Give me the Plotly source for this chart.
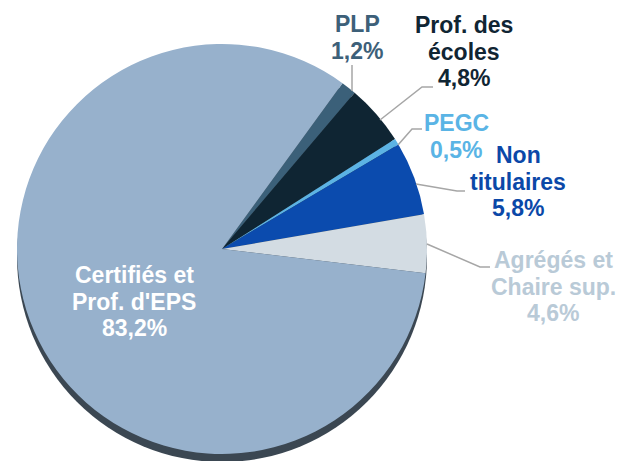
import plotly.graph_objects as go

# ---- data ----
categories = ["PLP", "Prof. des écoles", "PEGC", "Non titulaires",
              "Agrégés et Chaire sup.", "Certifiés et Prof. d'EPS"]
label_lines = [["PLP"], ["Prof. des", "écoles"], ["PEGC"], ["Non", "titulaires"],
               ["Agrégés et", "Chaire sup."], ["Certifiés et", "Prof. d'EPS"]]
values = [1.2, 4.8, 0.5, 5.8, 4.6, 83.2]

# ---- styles ----
slice_colors = ["#3b6079", "#0f2533", "#5cb3e4", "#0b4bae", "#d3dce3", "#97b1cc"]
text_colors = ["#3d6079", "#102533", "#5ab4e5", "#0b48a8", "#b9cad7", "#ffffff"]

W, H = 620, 461
CX, CY, R = 222, 249, 205


def px(x):
    return x / W


def py(y):
    return 1 - y / H


fig = go.Figure()
fig.add_trace(go.Pie(
    labels=categories,
    values=values,
    sort=False,
    direction="clockwise",
    rotation=36,
    marker=dict(colors=slice_colors, line=dict(width=0)),
    textinfo="none",
    hoverinfo="label+percent",
    showlegend=False,
    domain=dict(x=[px(CX - R), px(CX + R)], y=[py(CY + R), py(CY - R)]),
))

# 3D edge (decorative, below the pie)
shapes = [dict(type="circle", xref="paper", yref="paper", layer="below",
               x0=px(CX - R), x1=px(CX + R), y0=py(CY + R + 8), y1=py(CY - R + 8),
               fillcolor="#3b4752", line=dict(width=0))]

# leader lines (pixel polylines)
leaders = [
    [(352, 65), (352, 91)],
    [(433, 87), (422, 87), (380, 120)],
    [(422, 129), (412, 129), (398, 145)],
    [(416, 184), (457, 191), (465, 191)],
    [(427, 244), (480, 267), (490, 267)],
]
for pts in leaders:
    path = "M " + " L ".join(f"{px(x):.5f},{py(y):.5f}" for x, y in pts)
    shapes.append(dict(type="path", xref="paper", yref="paper", path=path,
                       line=dict(color="#a6a6a6", width=1.5)))

# label placement: center x, first baseline (pixels)
label_pos = [(357, 32), (464, 33), (456, 131), (518, 163), (553, 268), (134, 283)]
LINE_GAP = 26.5
FS = 23

annotations = []
for i, cat in enumerate(categories):
    pct = f"{values[i]:.1f}%".replace(".", ",")
    lines = label_lines[i] + [pct]
    cx, b0 = label_pos[i]
    for j, t in enumerate(lines):
        annotations.append(dict(
            x=px(cx), y=py(b0 + j * LINE_GAP - 8), xref="paper", yref="paper",
            xanchor="center", yanchor="middle", showarrow=False, text=f"<b>{t}</b>",
            font=dict(family="Liberation Sans, Arial, sans-serif", size=FS, color=text_colors[i]),
        ))

fig.update_layout(
    width=W, height=H,
    margin=dict(l=0, r=0, t=0, b=0),
    paper_bgcolor="white", plot_bgcolor="white",
    shapes=shapes, annotations=annotations,
)

fig.write_html(
    "out.html",
    config={"displayModeBar": False},
    post_script="document.body.style.margin='0';document.body.style.overflow='hidden';",
)
